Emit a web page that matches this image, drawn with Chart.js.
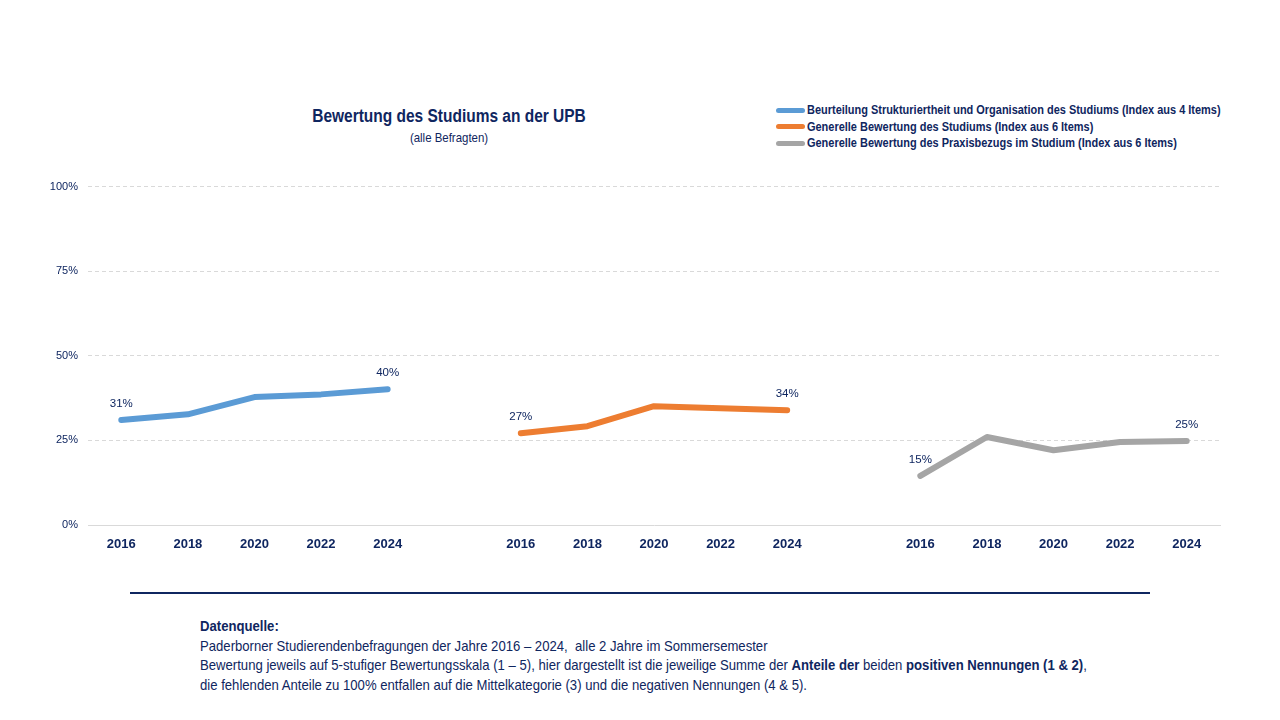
<!DOCTYPE html>
<html><head><meta charset="utf-8">
<script src="https://cdn.jsdelivr.net/npm/chart.js@4.4.1/dist/chart.umd.min.js"></script>
<style>
html,body{margin:0;padding:0;background:#fff;width:1280px;height:720px;overflow:hidden;font-family:"Liberation Sans Narrow","Liberation Sans",Arial,sans-serif;color:#0F2660;}
#wrap{position:absolute;left:0;top:170px;width:1280px;height:420px;}
.title{position:absolute;left:249px;width:400px;text-align:center;top:106px;font-size:18px;font-weight:bold;transform:scaleX(0.86);transform-origin:center;}
.sub{position:absolute;left:249px;width:400px;text-align:center;top:130px;font-size:13px;transform:scaleX(0.88);transform-origin:center;}
#legend{position:absolute;left:776px;top:102px;}
.li{display:flex;align-items:center;height:16.5px;font-size:12.5px;font-weight:bold;white-space:nowrap;}
.li span.t{display:inline-block;transform:scaleX(0.877);transform-origin:left center;}
.sw{width:29px;height:5px;border-radius:3px;margin-right:2px;}
#rule{position:absolute;left:130px;top:592px;width:1020px;height:2px;background:#0F2660;}
#foot{position:absolute;left:200px;top:617px;font-size:14.5px;line-height:19.5px;transform:scaleX(0.905);transform-origin:left top;white-space:nowrap;}
</style></head>
<body>
<div class="title">Bewertung des Studiums an der UPB</div>
<div class="sub">(alle Befragten)</div>
<div id="legend"></div>
<div id="wrap"><canvas id="c"></canvas></div>
<div id="rule"></div>
<div id="foot"><b>Datenquelle:</b><br>Paderborner Studierendenbefragungen der Jahre 2016 – 2024,&nbsp; alle 2 Jahre im Sommersemester<br>Bewertung jeweils auf 5-stufiger Bewertungsskala (1 – 5), hier dargestellt ist die jeweilige Summe der <b>Anteile der</b> beiden <b>positiven Nennungen (1 &amp; 2)</b>,<br>die fehlenden Anteile zu 100% entfallen auf die Mittelkategorie (3) und die negativen Nennungen (4 &amp; 5).</div>
<script>
const years = ["2016","2018","2020","2022","2024"];
const seriesNames = [
  "Beurteilung Strukturiertheit und Organisation des Studiums (Index aus 4 Items)",
  "Generelle Bewertung des Studiums (Index aus 6 Items)",
  "Generelle Bewertung des Praxisbezugs im Studium (Index aus 6 Items)"
];
const struktur = [31.0, 32.7, 37.8, 38.6, 40.1];
const generell = [27.1, 29.2, 35.1, 34.5, 33.9];
const praxis   = [14.5, 26.0, 22.1, 24.5, 24.8];
const yTicks = [0, 25, 50, 75, 100];
const colors = ["#5B9BD5", "#ED7D31", "#A5A5A5"];
const navy = "#0F2660";

const groups = [struktur, generell, praxis];
const labels = [];
groups.forEach((g, i) => { years.forEach(y => labels.push(y)); if (i < groups.length - 1) labels.push(""); });
const datasets = groups.map((g, i) => {
  const data = new Array(labels.length).fill(null);
  g.forEach((v, j) => { data[i * 6 + j] = v; });
  return {label: seriesNames[i], data, borderColor: colors[i], backgroundColor: colors[i],
    borderWidth: 6, pointRadius: 0, borderCapStyle: "round", borderJoinStyle: "round", tension: 0, spanGaps: false};
});

const lg = document.getElementById("legend");
seriesNames.forEach((n, i) => {
  const d = document.createElement("div"); d.className = "li";
  d.innerHTML = '<span class="sw" style="background:' + colors[i] + '"></span><span class="t">' + n + '</span>';
  lg.appendChild(d);
});

const endLabels = {
  id: "endLabels",
  afterDatasetsDraw(chart) {
    const ctx = chart.ctx;
    ctx.save();
    ctx.font = '11.5px "Liberation Sans Narrow","Liberation Sans",Arial';
    ctx.fillStyle = navy; ctx.textAlign = "center"; ctx.textBaseline = "middle";
    chart.data.datasets.forEach((ds, i) => {
      const meta = chart.getDatasetMeta(i);
      const idx = ds.data.map((v, k) => v === null ? -1 : k).filter(k => k >= 0);
      [idx[0], idx[idx.length - 1]].forEach(k => {
        const el = meta.data[k];
        ctx.fillText(Math.round(ds.data[k]) + "%", el.x, el.y - 16);
      });
    });
    ctx.restore();
  }
};

new Chart(document.getElementById("c"), {
  type: "line",
  data: {labels, datasets},
  plugins: [endLabels],
  options: {
    responsive: true, maintainAspectRatio: false, animation: false,
    layout: {padding: {left: 0, right: 60, top: 16, bottom: 0}},
    plugins: {legend: {display: false}, tooltip: {enabled: false}},
    scales: {
      x: {
        offset: true,
        grid: {display: false, drawTicks: false},
        border: {display: true, color: "#D9D9D9", width: 1},
        ticks: {color: navy, padding: 12, autoSkip: false, maxRotation: 0,
          font: {family: '"Liberation Sans Narrow","Liberation Sans",Arial', size: 13, weight: "bold"}},
        afterFit(s) { s.height = 65; }
      },
      y: {
        min: 0, max: 100,
        afterBuildTicks(s) { s.ticks = yTicks.map(v => ({value: v})); },
        grid: {color: "#D9D9D9", drawTicks: false, lineWidth: 1},
        border: {display: false, dash: [4, 3]},
        ticks: {color: navy, padding: 10, callback: v => v + "%",
          font: {family: '"Liberation Sans Narrow","Liberation Sans",Arial', size: 11}},
        afterFit(s) { s.width = 88; }
      }
    }
  }
});
</script>
</body></html>
